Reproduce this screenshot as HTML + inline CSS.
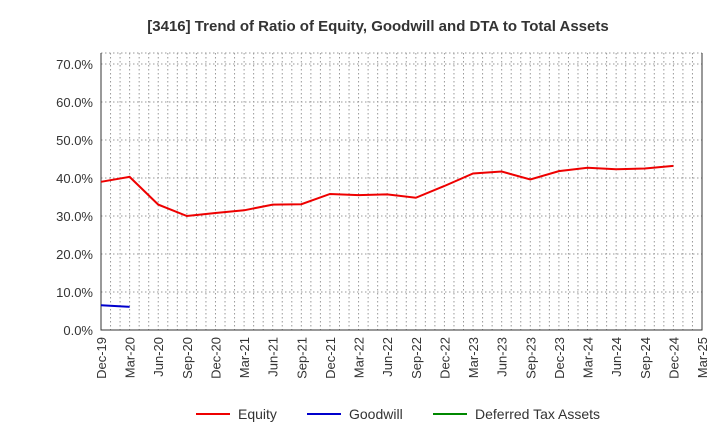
<!DOCTYPE html>
<html><head><meta charset="utf-8"><style>
body{margin:0;background:#fff;font-family:"Liberation Sans",sans-serif}
</style></head><body>
<svg id="chart" width="720" height="440" xmlns="http://www.w3.org/2000/svg">
<text x="378" y="31" text-anchor="middle" font-size="15" font-weight="bold" fill="#333">[3416]  Trend of Ratio of Equity, Goodwill and DTA to Total Assets</text>
<g id="grid"></g><g id="axes"></g><g id="series"></g>
<g>
<line x1="196" y1="414" x2="230" y2="414" stroke="#e00" stroke-width="2"/><text x="238" y="419" font-size="14" fill="#333">Equity</text>
<line x1="307" y1="414" x2="341" y2="414" stroke="#00c" stroke-width="2"/><text x="349" y="419" font-size="14" fill="#333">Goodwill</text>
<line x1="433" y1="414" x2="467" y2="414" stroke="#080" stroke-width="2"/><text x="475" y="419" font-size="14" fill="#333">Deferred Tax Assets</text>
</g>
</svg>
<script>
const categories=["Dec-19","Mar-20","Jun-20","Sep-20","Dec-20","Mar-21","Jun-21","Sep-21","Dec-21","Mar-22","Jun-22","Sep-22","Dec-22","Mar-23","Jun-23","Sep-23","Dec-23","Mar-24","Jun-24","Sep-24","Dec-24","Mar-25"];
const equity=[39.0,40.3,33.0,30.0,30.8,31.5,33.0,33.1,35.8,35.5,35.7,34.8,37.9,41.2,41.7,39.6,41.8,42.7,42.3,42.5,43.2];
const goodwill=[6.5,6.1];
const dta=[];
const yTicks=[0,10,20,30,40,50,60,70];
const NS="http://www.w3.org/2000/svg";
const L=101,R=702,T=53,B=330;
const x=i=>L+i*(R-L)/(categories.length-1);
const y=v=>B-v*3.8;
function mk(tag,attrs,parent){const e=document.createElementNS(NS,tag);for(const k in attrs)e.setAttribute(k,attrs[k]);document.getElementById(parent).appendChild(e);return e;}
for(let m=1;m<(categories.length-1)*3;m++){const xx=L+m*(R-L)/((categories.length-1)*3);
const g=mk('line',{x1:xx,x2:xx,y1:T,y2:B,stroke:'#999','stroke-dasharray':'1.5,2.5','stroke-width':1},'grid');

}
yTicks.forEach(v=>{const g=mk('line',{x1:L,x2:R,y1:y(v),y2:y(v),stroke:'#999','stroke-dasharray':'1.5,2.5'},'grid');


const t=mk('text',{x:L-8,y:y(v)+5,'text-anchor':'end','font-size':13,fill:'#333'},'axes');t.textContent=v.toFixed(1)+'%';

});
const topGrid=mk('line',{x1:L,x2:R,y1:T,y2:T,stroke:'#999','stroke-dasharray':'1.5,2.5'},'grid');


const ax=mk('path',{d:`M${L},${T}V${B}H${R}V${T}`,fill:'none',stroke:'#333','stroke-width':1},'axes');


categories.forEach((c,i)=>{const t=mk('text',{transform:`translate(${x(i)+5},${B+7}) rotate(-90)`,'text-anchor':'end','font-size':13,fill:'#333'},'axes');t.textContent=c;

});
function line(data,color,name){if(!data.length)return;const p=mk('polyline',{points:data.map((v,i)=>x(i)+','+y(v)).join(' '),fill:'none',stroke:color,'stroke-width':2},'series');

}
line(equity,'#e00','equity-line');line(goodwill,'#00c','goodwill-line');line(dta,'#080','dta-line');
</script>
</body></html>
